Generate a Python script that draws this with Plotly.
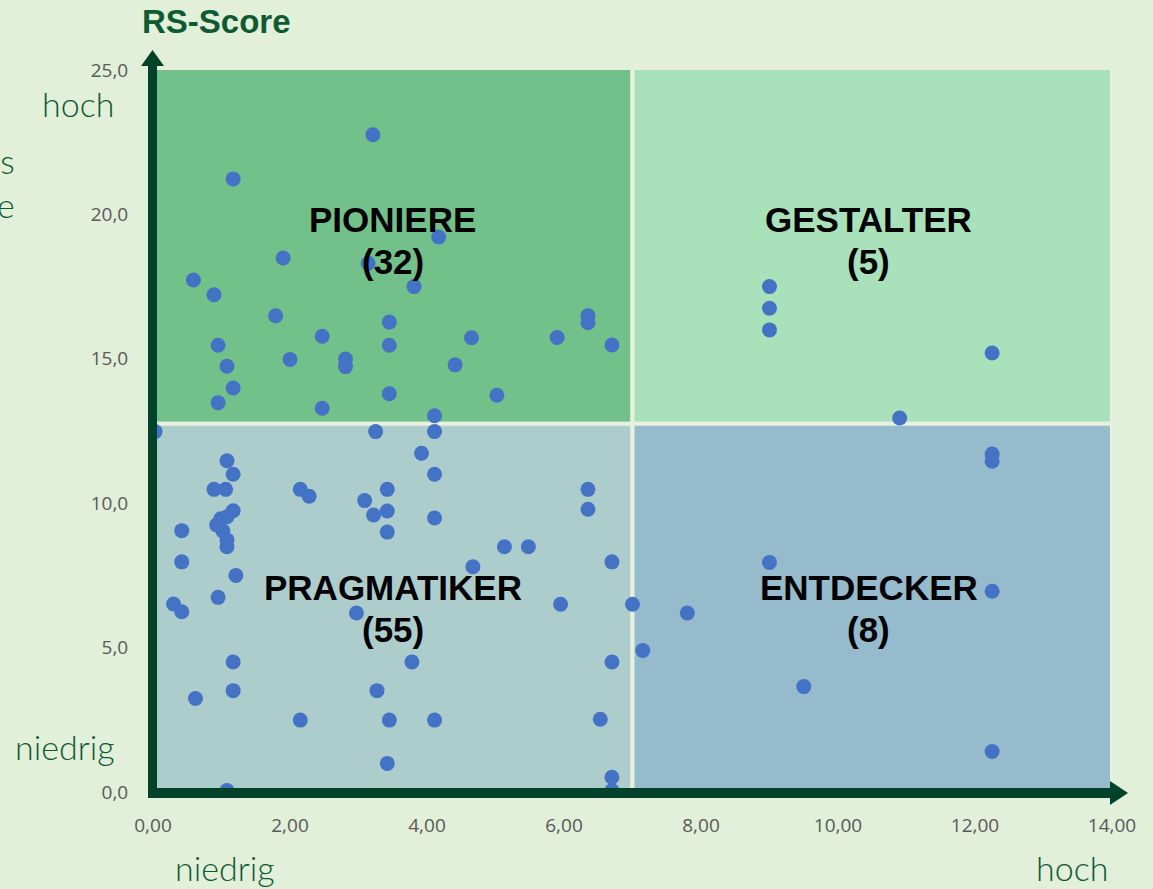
import plotly.graph_objects as go

# x = Umsetzung / Lage, y = RS-Score
x_vals = [3.21, 1.17, 4.17, 3.14, 1.90, 0.59, 0.89, 3.81, 1.79, 3.45,
          2.47, 4.65, 0.95, 3.45, 2.00, 2.81, 2.81, 1.08, 4.41, 1.17,
          3.45, 5.02, 0.95, 2.47, 4.11, 5.90, 6.35, 6.35, 6.70,
          0.03, 3.25, 4.11, 3.92, 1.08, 1.17, 4.11, 0.89, 1.06, 2.15,
          2.28, 3.42, 3.09, 3.22, 3.42, 3.42, 4.11, 1.17, 1.08, 0.99,
          0.93, 1.02, 1.08, 1.08, 0.42, 0.42, 1.21, 0.95, 0.30, 0.42,
          2.97, 1.17, 3.78, 0.62, 1.17, 3.27, 2.15, 3.45, 4.11, 3.42,
          1.08, 6.35, 6.35, 5.13, 5.48, 4.67, 6.70, 5.95, 7.00, 6.70,
          6.53, 6.70, 6.70,
          9.00, 9.00, 9.00, 12.25, 10.90,
          12.25, 12.25, 9.00, 12.25, 7.80, 7.15, 9.50, 12.25]
y_vals = [22.76, 21.23, 19.22, 18.31, 18.49, 17.73, 17.22, 17.50, 16.49, 16.27,
          15.78, 15.73, 15.47, 15.47, 14.98, 14.99, 14.73, 14.74, 14.79, 13.99,
          13.79, 13.74, 13.48, 13.29, 13.03, 15.74, 16.49, 16.25, 15.48,
          12.48, 12.48, 12.48, 11.73, 11.47, 11.00, 11.00, 10.48, 10.48, 10.48,
          10.24, 10.48, 10.09, 9.59, 9.73, 9.00, 9.49, 9.74, 9.53, 9.46,
          9.25, 9.04, 8.73, 8.49, 9.05, 7.97, 7.50, 6.74, 6.51, 6.24,
          6.20, 4.50, 4.50, 3.24, 3.51, 3.51, 2.49, 2.49, 2.49, 0.99,
          0.05, 10.48, 9.79, 8.49, 8.49, 7.80, 7.97, 6.50, 6.50, 4.50,
          2.52, 0.51, 0.05,
          17.50, 16.75, 16.00, 15.20, 12.95,
          11.70, 11.45, 7.95, 6.95, 6.20, 4.90, 3.65, 1.40]

x_ticks = [0, 2, 4, 6, 8, 10, 12, 14]
y_ticks = [0, 5, 10, 15, 20, 25]

quadrants = [
    # name, count, x0, x1, y0, y1, colour
    ("PIONIERE", 32, 0, 7, 12.75, 25.25, "#73c18a"),
    ("GESTALTER", 5, 7, 14, 12.75, 25.25, "#a8e1ba"),
    ("PRAGMATIKER", 55, 0, 7, 0, 12.75, "#adcdcc"),
    ("ENTDECKER", 8, 7, 14, 0, 12.75, "#96bbcc"),
]
label_pos = {"PIONIERE": (3.5, 19.1), "GESTALTER": (10.45, 19.1),
             "PRAGMATIKER": (3.5, 6.35), "ENTDECKER": (10.45, 6.35)}

BG = "#e2efd9"
AXIS = "#00432a"
TXT = "#0e5a33"

W, H = 1153, 889
L, R, T, B = 153, 1112, 70, 792


def px(x):
    return (x - L) / (R - L)


def py(y):
    return (B - y) / (B - T)


fig = go.Figure()

shapes = []
for name, cnt, x0, x1, y0, y1, col in quadrants:
    shapes.append(dict(type="rect", xref="x", yref="y", x0=x0, x1=x1, y0=y0, y1=y1,
                       fillcolor=col, line=dict(color="#e8f1de", width=4), layer="below"))

# axes with arrows
shapes.append(dict(type="rect", xref="paper", yref="paper", x0=px(148), x1=px(157),
                   y0=py(798), y1=py(64), fillcolor=AXIS, line_width=0, layer="above"))
shapes.append(dict(type="path", xref="paper", yref="paper",
                   path=f"M {px(141)} {py(66)} L {px(164)} {py(66)} L {px(152.5)} {py(50)} Z",
                   fillcolor=AXIS, line_width=0, layer="above"))
shapes.append(dict(type="rect", xref="paper", yref="paper", x0=px(148), x1=px(1112),
                   y0=py(798), y1=py(788), fillcolor=AXIS, line_width=0, layer="above"))
shapes.append(dict(type="path", xref="paper", yref="paper",
                   path=f"M {px(1110)} {py(781)} L {px(1110)} {py(805)} L {px(1128)} {py(793)} Z",
                   fillcolor=AXIS, line_width=0, layer="above"))

fig.add_trace(go.Scatter(x=x_vals, y=y_vals, mode="markers",
                         marker=dict(color="#4472c4", size=15), showlegend=False))

annotations = []
bold = dict(family="Liberation Sans, Arial", size=35, color="#000000")
for name, cnt, *_ in quadrants:
    lx, ly = label_pos[name]
    annotations.append(dict(x=lx, y=ly + 0.73, xref="x", yref="y", showarrow=False,
                            text=f"<b>{name}</b>", font=bold))
    annotations.append(dict(x=lx, y=ly - 0.73, xref="x", yref="y", showarrow=False,
                            text=f"<b>({cnt})</b>", font=bold))


def note(x, y, text, font, xanchor="center"):
    return dict(x=px(x), y=py(y), xref="paper", yref="paper", showarrow=False,
                xanchor=xanchor, yanchor="middle", align=xanchor if xanchor != "center" else "center",
                text=text, font=font)


side = dict(family="Lato, Noto Sans", size=34, color=TXT, weight=300)
annotations += [
    note(216, 21, "<b>RS-Score</b>", dict(family="Liberation Sans, Arial", size=33, color=TXT)),
    note(78, 103, "hoch", side),
    note(65, 746, "niedrig", side),
    note(225, 867, "niedrig", side),
    note(1072, 867, "hoch", side),
    note(17, 183, "s<br>e", side, xanchor="right"),
]

tick_font = dict(family="Open Sans", size=19, color="#595959")

fig.update_layout(
    width=W, height=H,
    margin=dict(l=L, r=W - R, t=T, b=H - B),
    paper_bgcolor=BG, plot_bgcolor=BG,
    separators=",.",
    shapes=shapes, annotations=annotations,
    xaxis=dict(range=[0, 14], tickvals=x_ticks, tickformat=".2f", showgrid=False,
               zeroline=False, showline=False, ticks="outside", ticklen=16,
               tickcolor="rgba(0,0,0,0)", tickfont=tick_font),
    yaxis=dict(range=[0, 25], tickvals=y_ticks, tickformat=".1f", showgrid=False,
               zeroline=False, showline=False, ticks="outside", ticklen=20,
               tickcolor="rgba(0,0,0,0)", tickfont=tick_font),
)

fig.write_html("out.html", config={"displayModeBar": False},
               post_script="document.body.style.margin='0';")
